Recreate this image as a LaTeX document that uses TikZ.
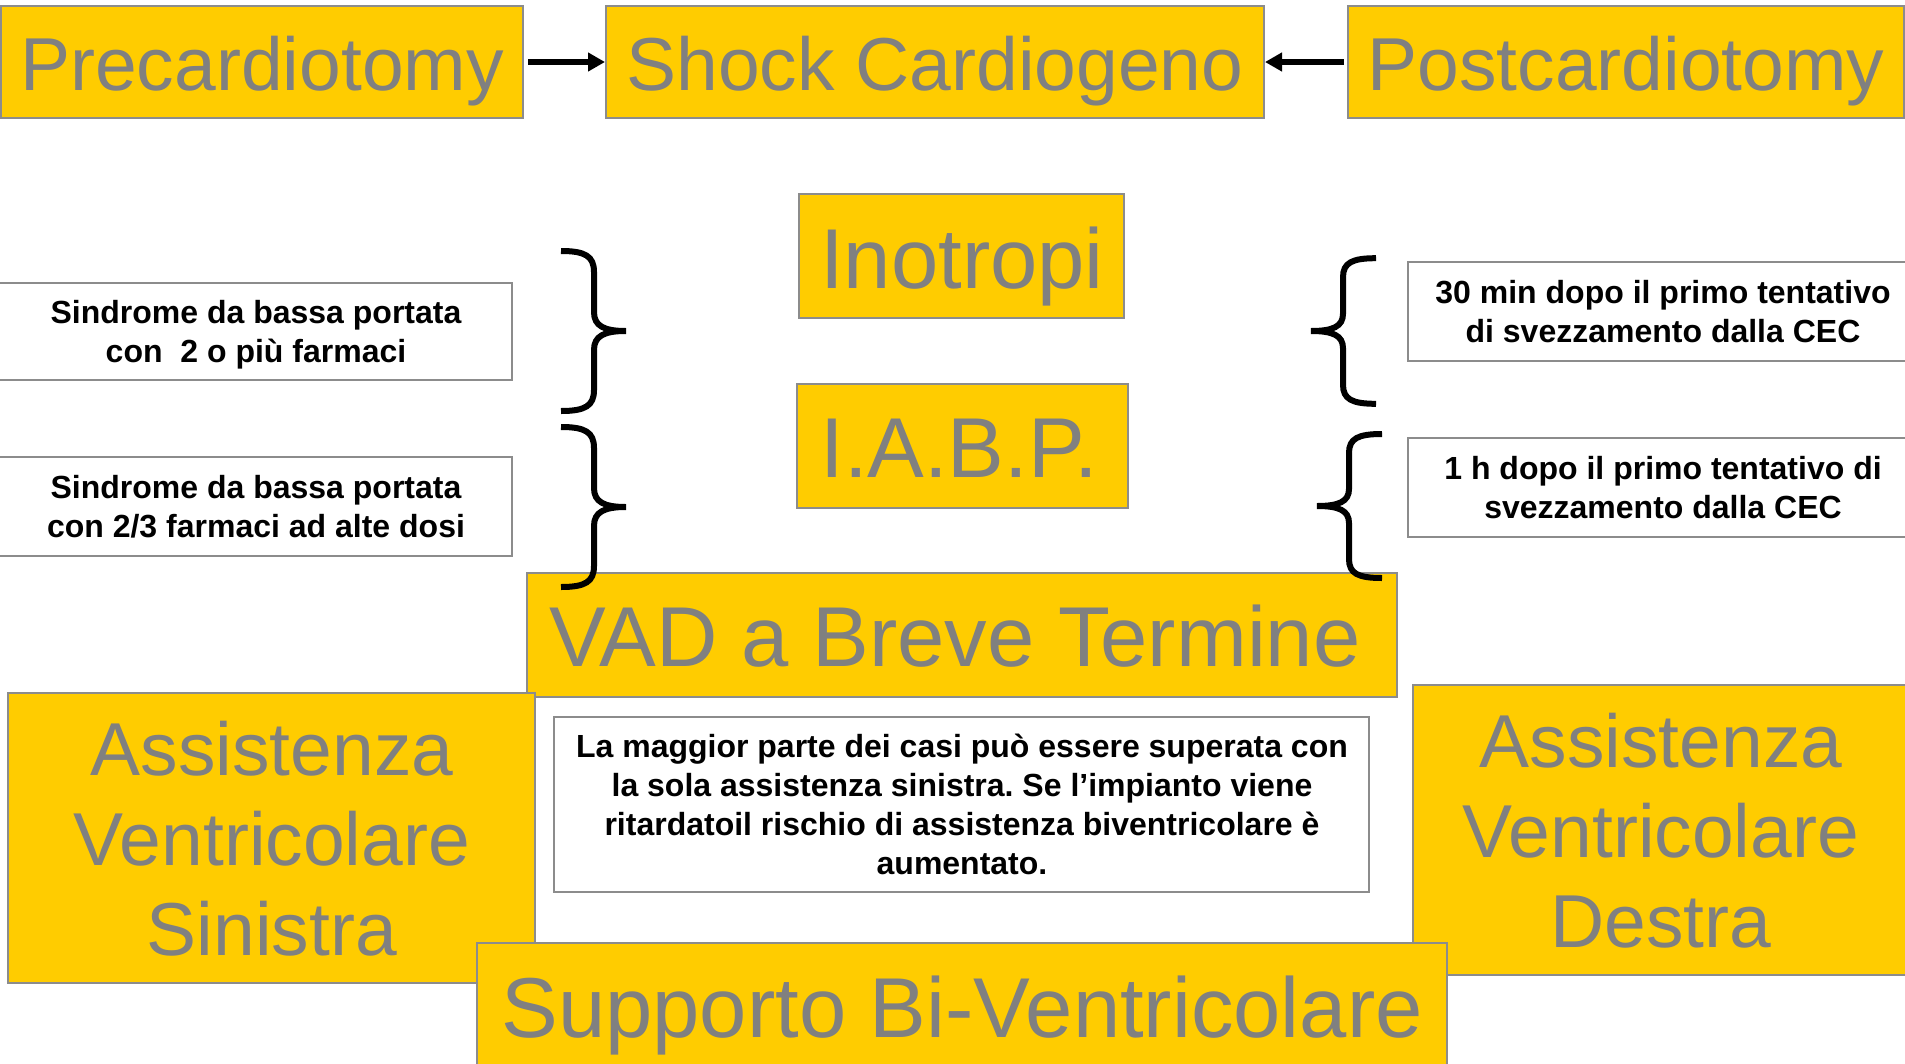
\documentclass[tikz,border=0pt]{standalone}
\usepackage{fontspec}
\setmainfont{Liberation Sans}
\usetikzlibrary{arrows.meta}
\definecolor{ppyellow}{HTML}{FFCC00}
\definecolor{txtgray}{HTML}{808080}
\definecolor{edgegray}{HTML}{8C8C8C}
\frenchspacing
\begin{document}
\begin{tikzpicture}[x=1pt,y=-1pt,
  ybox/.style={draw=edgegray, line width=2pt, fill=ppyellow, inner sep=0pt},
  wbox/.style={draw=edgegray, line width=2pt, fill=white, inner sep=0pt},
  bigtxt/.style={text=txtgray, font=\fontsize{75}{90}\selectfont, anchor=base, inner sep=0pt, align=center},
  midtxt/.style={text=txtgray, font=\fontsize{85}{102}\selectfont, anchor=base, inner sep=0pt},
  smalltxt/.style={text=black, font=\fontsize{32}{39}\selectfont\bfseries, anchor=base, inner sep=0pt, align=center},
  arr/.style={line width=6.5pt, -{Triangle[length=17pt,width=18pt]}},
  bracepic/.pic={\draw[line width=6pt] (-65,-80) .. controls (-41,-80) and (-32,-75) .. (-32,-59) -- (-32,-19) .. controls (-32,-5) and (-22,0) .. (0,0) .. controls (-22,0) and (-32,5) .. (-32,19) -- (-32,59) .. controls (-32,75) and (-41,80) .. (-65,80);}
]
\useasboundingbox (0,0) rectangle (1905,1063);
\clip (0,0) rectangle (1905,1063);

% top row
\node[ybox, minimum width=522pt, minimum height=112pt] (pre) at (262,62) {};
\node[bigtxt] (pretxt) at (262,90) {Precardiotomy};
\node[ybox, minimum width=658pt, minimum height=112pt] (shock) at (935,62) {};
\node[bigtxt] (shocktxt) at (935,90) {Shock Cardiogeno};
\node[ybox, minimum width=556pt, minimum height=112pt] (post) at (1626,62) {};
\node[bigtxt] (posttxt) at (1626,90) {Postcardiotomy};
\draw[arr, shorten <=4pt] (pre.east) -- (shock.west);
\draw[arr, shorten <=3pt] (post.west) -- (shock.east);

% middle column
\node[ybox, minimum width=325pt, minimum height=124pt] (ino) at (961.5,256) {};
\node[midtxt] (inotxt) at (962,288) {Inotropi};
\node[ybox, minimum width=331pt, minimum height=124pt] (iabp) at (962.5,446) {};
\node[midtxt] (iabptxt) at (959,477) {I.A.B.P.};

% side text boxes (anchor base = last line's baseline)
\node[wbox, minimum width=514pt, minimum height=97pt] (t1) at (255,331.5) {};
\node[smalltxt] (t1txt) at (256,362) {Sindrome da bassa portata\\con\ \ 2 o più farmaci};
\node[wbox, minimum width=514pt, minimum height=99pt] (t2) at (255,506.5) {};
\node[smalltxt] (t2txt) at (256,537) {Sindrome da bassa portata\\con 2/3 farmaci ad alte dosi};
\node[wbox, minimum width=507pt, minimum height=99pt] (t3) at (1661.5,311.5) {};
\node[smalltxt] (t3txt) at (1663,342) {30 min dopo il primo tentativo\\di svezzamento dalla CEC};
\node[wbox, minimum width=507pt, minimum height=99pt] (t4) at (1661.5,487.5) {};
\node[smalltxt] (t4txt) at (1663,518) {1 h dopo il primo tentativo di\\svezzamento dalla CEC};

% VAD
\node[ybox, minimum width=870pt, minimum height=124pt] (vad) at (962,635) {};
\node[midtxt] (vadtxt) at (955,666) {VAD a Breve Termine};

% Assistenza boxes
\node[ybox, minimum width=527pt, minimum height=290pt] (lav) at (271.5,838) {};
\node[bigtxt] (lavtxt) at (272,955) {Assistenza\\Ventricolare\\Sinistra};
\node[ybox, minimum width=497pt, minimum height=290pt] (rav) at (1661.5,830) {};
\node[bigtxt] (ravtxt) at (1661,947) {Assistenza\\Ventricolare\\Destra};

% central note
\node[wbox, minimum width=815pt, minimum height=175pt] (note) at (961.5,804.5) {};
\node[smalltxt] (notetxt) at (962,874) {La maggior parte dei casi può essere superata con\\la sola assistenza sinistra. Se l’impianto viene\\ritardatoil rischio di assistenza biventricolare è\\aumentato.};

% Supporto
\node[ybox, minimum width=970pt, minimum height=142pt] (bv) at (962,1014) {};
\node[midtxt] (bvtxt) at (962,1037) {Supporto Bi-Ventricolare};

% braces
\pic at (626,331) {bracepic};
\pic at (626,507) {bracepic};
\pic[xscale=-1, yscale=0.91] at (1311,331) {bracepic};
\pic[xscale=-1, yscale=0.9] at (1317,506) {bracepic};
\end{tikzpicture}
\end{document}
